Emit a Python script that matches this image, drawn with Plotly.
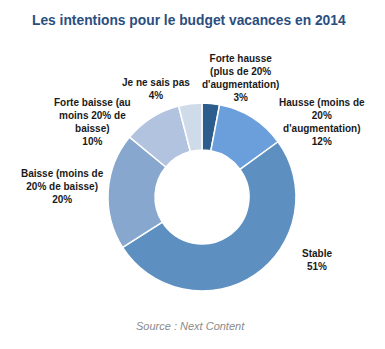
import plotly.graph_objects as go

W, H = 385, 349

categories = [
    "Forte hausse (plus de 20% d'augmentation)",
    "Hausse (moins de 20% d'augmentation)",
    "Stable",
    "Baisse (moins de 20% de baisse)",
    "Forte baisse (au moins 20% de baisse)",
    "Je ne sais pas",
]
values = [3, 12, 51, 20, 10, 4]
label_texts = [
    "Forte hausse<br>(plus de 20%<br>d'augmentation)<br>3%",
    "Hausse (moins de<br>20%<br>d'augmentation)<br>12%",
    "Stable<br>51%",
    "Baisse (moins de<br>20% de baisse)<br>20%",
    "Forte baisse (au<br>moins 20% de<br>baisse)<br>10%",
    "Je ne sais pas<br>4%",
]
colors = ["#2c5d8c", "#6a9fdb", "#5d8fc0", "#87a7cf", "#b1c3df", "#d0dbe9"]
# label centre positions in pixels (x, y from top)
label_pos = [(240, 78), (322, 122), (317, 260), (62, 186), (92, 122), (156, 89)]

cx, cy, r = 202, 197, 94

fig = go.Figure(go.Pie(
    labels=categories,
    values=values,
    hole=0.5,
    sort=False,
    direction="clockwise",
    rotation=0,
    marker=dict(colors=colors, line=dict(color="white", width=1.5)),
    textinfo="none",
    hoverinfo="label+percent",
    showlegend=False,
    domain=dict(x=[(cx - r) / W, (cx + r) / W], y=[1 - (cy + r) / H, 1 - (cy - r) / H]),
))

annotations = []
for txt, (px, py) in zip(label_texts, label_pos):
    annotations.append(dict(
        text="<b>" + txt + "</b>", x=px / W, y=1 - py / H, xref="paper", yref="paper",
        xanchor="center", yanchor="middle", showarrow=False, align="center",
        font=dict(family="Liberation Sans, Arial", size=10, color="#1a1a1a"),
    ))
annotations.append(dict(
    text="<b>Les intentions pour le budget vacances en 2014</b>", x=189 / W, y=1 - 20 / H,
    xref="paper", yref="paper", xanchor="center", yanchor="middle", showarrow=False,
    font=dict(family="Liberation Sans, Arial", size=13.8, color="#2b4e80"),
))
annotations.append(dict(
    text="<i>Source : Next Content</i>", x=190 / W, y=1 - 326 / H,
    xref="paper", yref="paper", xanchor="center", yanchor="middle", showarrow=False,
    font=dict(family="Liberation Sans, Arial", size=11, color="#8a8a8a"),
))

fig.update_layout(
    width=W, height=H, margin=dict(l=0, r=0, t=0, b=0),
    paper_bgcolor="white", plot_bgcolor="white",
    annotations=annotations,
)
fig.write_html("out.html")
